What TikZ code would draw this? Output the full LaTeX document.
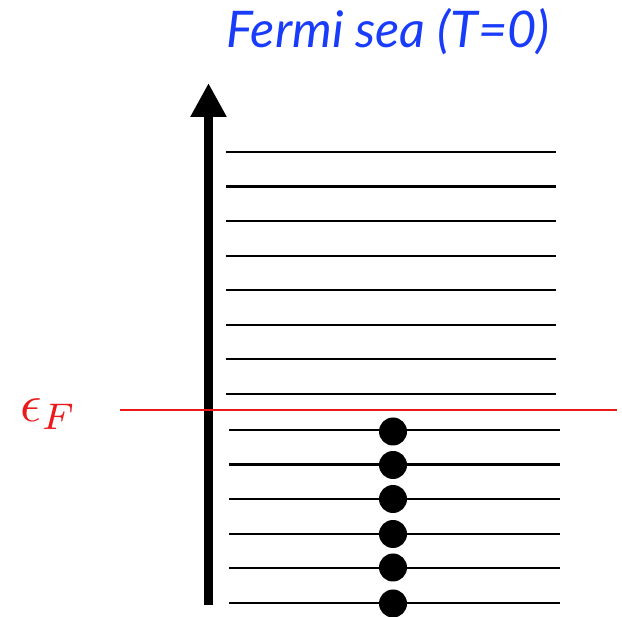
\documentclass[tikz,border=0pt]{standalone}
\usepackage{fontspec}
\newfontfamily\titlefont{Lato}
\usetikzlibrary{arrows.meta}
\definecolor{titleblue}{RGB}{25,60,250}
\definecolor{fermired}{RGB}{235,25,25}
\tikzset{
  level/.style={line width=2.2pt, black},
  fermiline/.style={line width=2.8pt, fermired},
  axis/.style={line width=9.5pt, -{Triangle[width=34pt,length=34pt]}},
  electron/.style={fill=black},
}
\begin{document}
\begin{tikzpicture}[x=1pt,y=-1pt]
\useasboundingbox (0,0) rectangle (622,617);
% empty levels above the Fermi energy
\foreach \y in {152,186.6,221.1,255.7,290.3,324.9,359.4,394} {
  \draw[level] (226,\y) -- (556,\y);
}
% filled levels below
\foreach \y in {430,464.6,499.2,533.8,568.4,603} {
  \draw[level] (229,\y) -- (560,\y);
}
% electrons
\foreach \y in {431.5,465,499,534,567.5,603.5} {
  \fill[electron] (393,\y) circle (14);
}
% energy axis
\coordinate (axisbot) at (208.5,605);
\coordinate (axistop) at (208.5,83);
\draw[axis] (axisbot) -- (axistop);
% Fermi level
\coordinate (fl) at (120,410);
\coordinate (fr) at (617,410);
\draw[fermiline] (fl) -- (fr);
\node[text=fermired, scale=5.3, inner sep=0pt] (eF) at (48.5,414) {$\epsilon_F$};
% title
\node[text=titleblue, font=\titlefont\itshape\fontsize{50.5}{56}\selectfont, anchor=base] (title) at (388,48) {Fermi sea (T=0)};
\end{tikzpicture}
\end{document}
